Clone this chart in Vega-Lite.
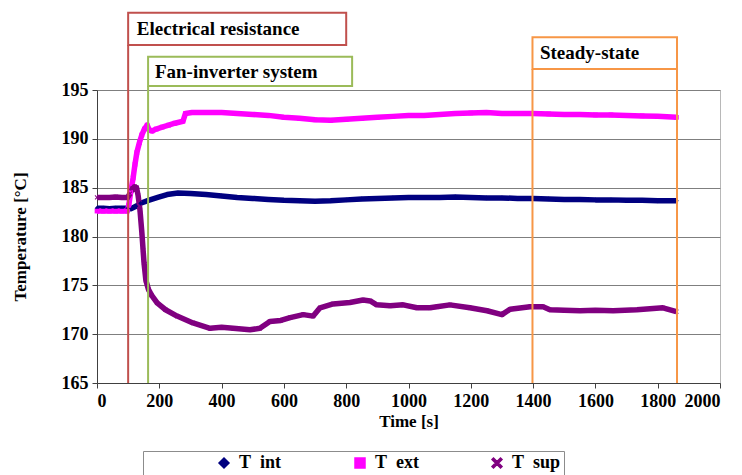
{
  "$schema": "https://vega.github.io/schema/vega-lite/v6.json",
  "width": 623,
  "height": 293,
  "autosize": {"type": "none"},
  "padding": {"left": 97, "top": 90, "right": 22, "bottom": 92},
  "background": "white",
  "config": {
    "font": "Liberation Serif",
    "view": {"stroke": "#b8b8b8", "strokeWidth": 1},
    "axis": {
      "labelFont": "Liberation Serif", "labelFontSize": 18, "labelFontWeight": "bold", "labelColor": "black",
      "titleFont": "Liberation Serif", "titleFontSize": 17, "titleFontWeight": "bold", "titleColor": "black",
      "domainColor": "#404040", "tickColor": "#404040", "gridColor": "#7f7f7f", "gridOpacity": 1, "tickSize": 5
    },
    "legend": {
      "orient": "none", "legendX": 46, "legendY": 361, "direction": "horizontal",
      "strokeColor": "#8c8c8c", "padding": 3, "columnPadding": 0,
      "labelFont": "Liberation Serif", "labelFontSize": 18, "labelFontWeight": "bold", "labelColor": "black",
      "symbolOffset": 69, "labelOffset": 6
    }
  },
  "datasets": {
    "temps": [
      {"time":0,"series":"T\u00a0 int","temp":182.9},{"time":20,"series":"T\u00a0 int","temp":182.9},{"time":40,"series":"T\u00a0 int","temp":182.85},{"time":60,"series":"T\u00a0 int","temp":182.9},{"time":80,"series":"T\u00a0 int","temp":182.9},{"time":98,"series":"T\u00a0 int","temp":182.9},{"time":110,"series":"T\u00a0 int","temp":182.85},{"time":125,"series":"T\u00a0 int","temp":183.1},{"time":140,"series":"T\u00a0 int","temp":183.4},{"time":165,"series":"T\u00a0 int","temp":183.7},{"time":195,"series":"T\u00a0 int","temp":184.0},{"time":225,"series":"T\u00a0 int","temp":184.3},{"time":260,"series":"T\u00a0 int","temp":184.45},{"time":300,"series":"T\u00a0 int","temp":184.4},{"time":350,"series":"T\u00a0 int","temp":184.3},{"time":400,"series":"T\u00a0 int","temp":184.15},{"time":450,"series":"T\u00a0 int","temp":184.0},{"time":500,"series":"T\u00a0 int","temp":183.9},{"time":550,"series":"T\u00a0 int","temp":183.8},{"time":600,"series":"T\u00a0 int","temp":183.7},{"time":650,"series":"T\u00a0 int","temp":183.65},{"time":700,"series":"T\u00a0 int","temp":183.6},{"time":750,"series":"T\u00a0 int","temp":183.65},{"time":800,"series":"T\u00a0 int","temp":183.75},{"time":850,"series":"T\u00a0 int","temp":183.85},{"time":900,"series":"T\u00a0 int","temp":183.9},{"time":950,"series":"T\u00a0 int","temp":183.95},{"time":1000,"series":"T\u00a0 int","temp":184.0},{"time":1050,"series":"T\u00a0 int","temp":184.0},{"time":1100,"series":"T\u00a0 int","temp":184.0},{"time":1150,"series":"T\u00a0 int","temp":184.05},{"time":1200,"series":"T\u00a0 int","temp":184.0},{"time":1250,"series":"T\u00a0 int","temp":183.95},{"time":1300,"series":"T\u00a0 int","temp":183.95},{"time":1350,"series":"T\u00a0 int","temp":183.9},{"time":1400,"series":"T\u00a0 int","temp":183.9},{"time":1450,"series":"T\u00a0 int","temp":183.85},{"time":1500,"series":"T\u00a0 int","temp":183.8},{"time":1550,"series":"T\u00a0 int","temp":183.8},{"time":1600,"series":"T\u00a0 int","temp":183.75},{"time":1650,"series":"T\u00a0 int","temp":183.75},{"time":1700,"series":"T\u00a0 int","temp":183.7},{"time":1750,"series":"T\u00a0 int","temp":183.7},{"time":1800,"series":"T\u00a0 int","temp":183.65},{"time":1860,"series":"T\u00a0 int","temp":183.65},

      {"time":0,"series":"T\u00a0 ext","temp":182.6},{"time":20,"series":"T\u00a0 ext","temp":182.6},{"time":40,"series":"T\u00a0 ext","temp":182.6},{"time":60,"series":"T\u00a0 ext","temp":182.6},{"time":80,"series":"T\u00a0 ext","temp":182.6},{"time":97,"series":"T\u00a0 ext","temp":182.6},{"time":102,"series":"T\u00a0 ext","temp":183.2},{"time":108,"series":"T\u00a0 ext","temp":184.5},{"time":116,"series":"T\u00a0 ext","temp":186.0},{"time":122,"series":"T\u00a0 ext","temp":187.4},{"time":128,"series":"T\u00a0 ext","temp":188.6},{"time":136,"series":"T\u00a0 ext","temp":189.6},{"time":144,"series":"T\u00a0 ext","temp":190.4},{"time":152,"series":"T\u00a0 ext","temp":191.0},{"time":161,"series":"T\u00a0 ext","temp":191.4},{"time":168,"series":"T\u00a0 ext","temp":190.9},{"time":177,"series":"T\u00a0 ext","temp":190.8},{"time":190,"series":"T\u00a0 ext","temp":191.0},{"time":209,"series":"T\u00a0 ext","temp":191.2},{"time":230,"series":"T\u00a0 ext","temp":191.4},{"time":250,"series":"T\u00a0 ext","temp":191.6},{"time":276,"series":"T\u00a0 ext","temp":191.8},{"time":284,"series":"T\u00a0 ext","temp":192.6},{"time":305,"series":"T\u00a0 ext","temp":192.7},{"time":350,"series":"T\u00a0 ext","temp":192.7},{"time":400,"series":"T\u00a0 ext","temp":192.7},{"time":450,"series":"T\u00a0 ext","temp":192.6},{"time":500,"series":"T\u00a0 ext","temp":192.5},{"time":550,"series":"T\u00a0 ext","temp":192.4},{"time":600,"series":"T\u00a0 ext","temp":192.2},{"time":650,"series":"T\u00a0 ext","temp":192.1},{"time":700,"series":"T\u00a0 ext","temp":191.95},{"time":750,"series":"T\u00a0 ext","temp":191.9},{"time":800,"series":"T\u00a0 ext","temp":192.0},{"time":850,"series":"T\u00a0 ext","temp":192.1},{"time":900,"series":"T\u00a0 ext","temp":192.2},{"time":950,"series":"T\u00a0 ext","temp":192.3},{"time":1000,"series":"T\u00a0 ext","temp":192.4},{"time":1050,"series":"T\u00a0 ext","temp":192.4},{"time":1100,"series":"T\u00a0 ext","temp":192.5},{"time":1150,"series":"T\u00a0 ext","temp":192.6},{"time":1200,"series":"T\u00a0 ext","temp":192.65},{"time":1250,"series":"T\u00a0 ext","temp":192.7},{"time":1300,"series":"T\u00a0 ext","temp":192.6},{"time":1350,"series":"T\u00a0 ext","temp":192.6},{"time":1400,"series":"T\u00a0 ext","temp":192.6},{"time":1450,"series":"T\u00a0 ext","temp":192.55},{"time":1500,"series":"T\u00a0 ext","temp":192.5},{"time":1550,"series":"T\u00a0 ext","temp":192.5},{"time":1600,"series":"T\u00a0 ext","temp":192.45},{"time":1650,"series":"T\u00a0 ext","temp":192.45},{"time":1700,"series":"T\u00a0 ext","temp":192.4},{"time":1750,"series":"T\u00a0 ext","temp":192.35},{"time":1800,"series":"T\u00a0 ext","temp":192.3},{"time":1860,"series":"T\u00a0 ext","temp":192.2},

      {"time":0,"series":"T\u00a0 sup","temp":184.0},{"time":20,"series":"T\u00a0 sup","temp":184.0},{"time":40,"series":"T\u00a0 sup","temp":184.0},{"time":60,"series":"T\u00a0 sup","temp":184.05},{"time":80,"series":"T\u00a0 sup","temp":184.0},{"time":98,"series":"T\u00a0 sup","temp":184.0},{"time":106,"series":"T\u00a0 sup","temp":184.4},{"time":114,"series":"T\u00a0 sup","temp":184.9},{"time":121,"series":"T\u00a0 sup","temp":185.1},{"time":127,"series":"T\u00a0 sup","temp":185.0},{"time":132,"series":"T\u00a0 sup","temp":184.2},{"time":138,"series":"T\u00a0 sup","temp":182.7},{"time":144,"series":"T\u00a0 sup","temp":180.4},{"time":148,"series":"T\u00a0 sup","temp":178.6},{"time":151,"series":"T\u00a0 sup","temp":177.3},{"time":157,"series":"T\u00a0 sup","temp":175.5},{"time":165,"series":"T\u00a0 sup","temp":174.6},{"time":175,"series":"T\u00a0 sup","temp":174.0},{"time":193,"series":"T\u00a0 sup","temp":173.2},{"time":220,"series":"T\u00a0 sup","temp":172.5},{"time":257,"series":"T\u00a0 sup","temp":171.85},{"time":308,"series":"T\u00a0 sup","temp":171.15},{"time":363,"series":"T\u00a0 sup","temp":170.6},{"time":400,"series":"T\u00a0 sup","temp":170.7},{"time":437,"series":"T\u00a0 sup","temp":170.6},{"time":491,"series":"T\u00a0 sup","temp":170.45},{"time":523,"series":"T\u00a0 sup","temp":170.6},{"time":555,"series":"T\u00a0 sup","temp":171.3},{"time":590,"series":"T\u00a0 sup","temp":171.4},{"time":620,"series":"T\u00a0 sup","temp":171.7},{"time":662,"series":"T\u00a0 sup","temp":172.0},{"time":694,"series":"T\u00a0 sup","temp":171.85},{"time":716,"series":"T\u00a0 sup","temp":172.7},{"time":758,"series":"T\u00a0 sup","temp":173.1},{"time":812,"series":"T\u00a0 sup","temp":173.25},{"time":854,"series":"T\u00a0 sup","temp":173.5},{"time":877,"series":"T\u00a0 sup","temp":173.4},{"time":898,"series":"T\u00a0 sup","temp":173.0},{"time":941,"series":"T\u00a0 sup","temp":172.9},{"time":983,"series":"T\u00a0 sup","temp":173.0},{"time":1027,"series":"T\u00a0 sup","temp":172.7},{"time":1069,"series":"T\u00a0 sup","temp":172.7},{"time":1091,"series":"T\u00a0 sup","temp":172.8},{"time":1133,"series":"T\u00a0 sup","temp":173.0},{"time":1197,"series":"T\u00a0 sup","temp":172.7},{"time":1252,"series":"T\u00a0 sup","temp":172.4},{"time":1300,"series":"T\u00a0 sup","temp":172.0},{"time":1326,"series":"T\u00a0 sup","temp":172.55},{"time":1390,"series":"T\u00a0 sup","temp":172.8},{"time":1432,"series":"T\u00a0 sup","temp":172.8},{"time":1454,"series":"T\u00a0 sup","temp":172.5},{"time":1500,"series":"T\u00a0 sup","temp":172.45},{"time":1551,"series":"T\u00a0 sup","temp":172.4},{"time":1600,"series":"T\u00a0 sup","temp":172.45},{"time":1657,"series":"T\u00a0 sup","temp":172.4},{"time":1733,"series":"T\u00a0 sup","temp":172.5},{"time":1817,"series":"T\u00a0 sup","temp":172.7},{"time":1860,"series":"T\u00a0 sup","temp":172.3}
    ],
    "vlines": [
      {"event":"Electrical resistance","time":100,"bottom":165,"top":199.6},
      {"event":"Fan-inverter system","time":164,"bottom":165,"top":195.4},
      {"event":"Steady-state","time":1398,"bottom":165,"top":197.15},
      {"event":"Steady-state","time":1862,"bottom":165,"top":197.15}
    ],
    "boxes": [
      {"event":"Electrical resistance","t1":100,"t2":800,"low":199.6,"high":202.9},
      {"event":"Fan-inverter system","t1":164,"t2":819,"low":195.4,"high":198.4},
      {"event":"Steady-state","t1":1398,"t2":1862,"low":197.15,"high":200.4}
    ],
    "labels": [
      {"event":"Electrical resistance","time":128,"temp":201.2},
      {"event":"Fan-inverter system","time":186,"temp":196.8},
      {"event":"Steady-state","time":1422,"temp":198.75}
    ]
  },
  "layer": [
    {
      "data": {"name": "temps"},
      "mark": {"type": "line", "strokeCap": "butt", "strokeJoin": "round", "strokeWidth": 5.5},
      "encoding": {
        "x": {"field": "time", "type": "quantitative", "title": "Time [s]",
              "scale": {"domain": [0, 2000], "nice": false},
              "axis": {"values": [0,200,400,600,800,1000,1200,1400,1600,1800,2000], "format": "d", "grid": false, "labelPadding": 4, "titlePadding": 3}},
        "y": {"field": "temp", "type": "quantitative", "title": "Temperature [°C]",
              "scale": {"domain": [165, 195], "nice": false, "zero": false},
              "axis": {"values": [165,170,175,180,185,190,195], "format": "d", "grid": true, "labelPadding": 4, "titlePadding": 32}},
        "color": {"field": "series", "type": "nominal",
                  "scale": {"domain": ["T\u00a0 int","T\u00a0 ext","T\u00a0 sup"], "range": ["#000080","#FF00FF","#800080"]},
                  "legend": {"title": null}}
      }
    },
    {
      "data": {"name": "temps"},
      "mark": {"type": "point", "filled": true, "size": 22, "opacity": 1},
      "encoding": {
        "x": {"field": "time", "type": "quantitative", "title": "Time [s]"},
        "y": {"field": "temp", "type": "quantitative", "title": "Temperature [°C]"},
        "color": {"field": "series", "type": "nominal", "legend": {"title": null}},
        "shape": {"field": "series", "type": "nominal",
                  "scale": {"domain": ["T\u00a0 int","T\u00a0 ext","T\u00a0 sup"],
                            "range": ["diamond","square","M-1,-0.7L-0.7,-1L0,-0.3L0.7,-1L1,-0.7L0.3,0L1,0.7L0.7,1L0,0.3L-0.7,1L-1,0.7L-0.3,0Z"]},
                  "legend": {"title": null}}
      }
    },
    {
      "data": {"name": "vlines"},
      "mark": {"type": "rule", "strokeWidth": 2},
      "encoding": {
        "x": {"field": "time", "type": "quantitative", "title": "Time [s]"},
        "y": {"field": "bottom", "type": "quantitative", "title": "Temperature [°C]"},
        "y2": {"field": "top"},
        "stroke": {"field": "event", "type": "nominal",
                   "scale": {"domain": ["Electrical resistance","Fan-inverter system","Steady-state"], "range": ["#C0504D","#9BBB59","#F79646"]},
                   "legend": null}
      }
    },
    {
      "data": {"name": "boxes"},
      "mark": {"type": "rect", "filled": false, "strokeWidth": 2},
      "encoding": {
        "x": {"field": "t1", "type": "quantitative", "title": "Time [s]"},
        "x2": {"field": "t2"},
        "y": {"field": "low", "type": "quantitative", "title": "Temperature [°C]"},
        "y2": {"field": "high"},
        "stroke": {"field": "event", "type": "nominal", "legend": null}
      }
    },
    {
      "data": {"name": "labels"},
      "mark": {"type": "text", "align": "left", "baseline": "middle", "font": "Liberation Serif", "fontSize": 19, "fontWeight": "bold", "color": "black"},
      "encoding": {
        "x": {"field": "time", "type": "quantitative", "title": "Time [s]"},
        "y": {"field": "temp", "type": "quantitative", "title": "Temperature [°C]"},
        "text": {"field": "event", "type": "nominal"}
      }
    }
  ]
}
